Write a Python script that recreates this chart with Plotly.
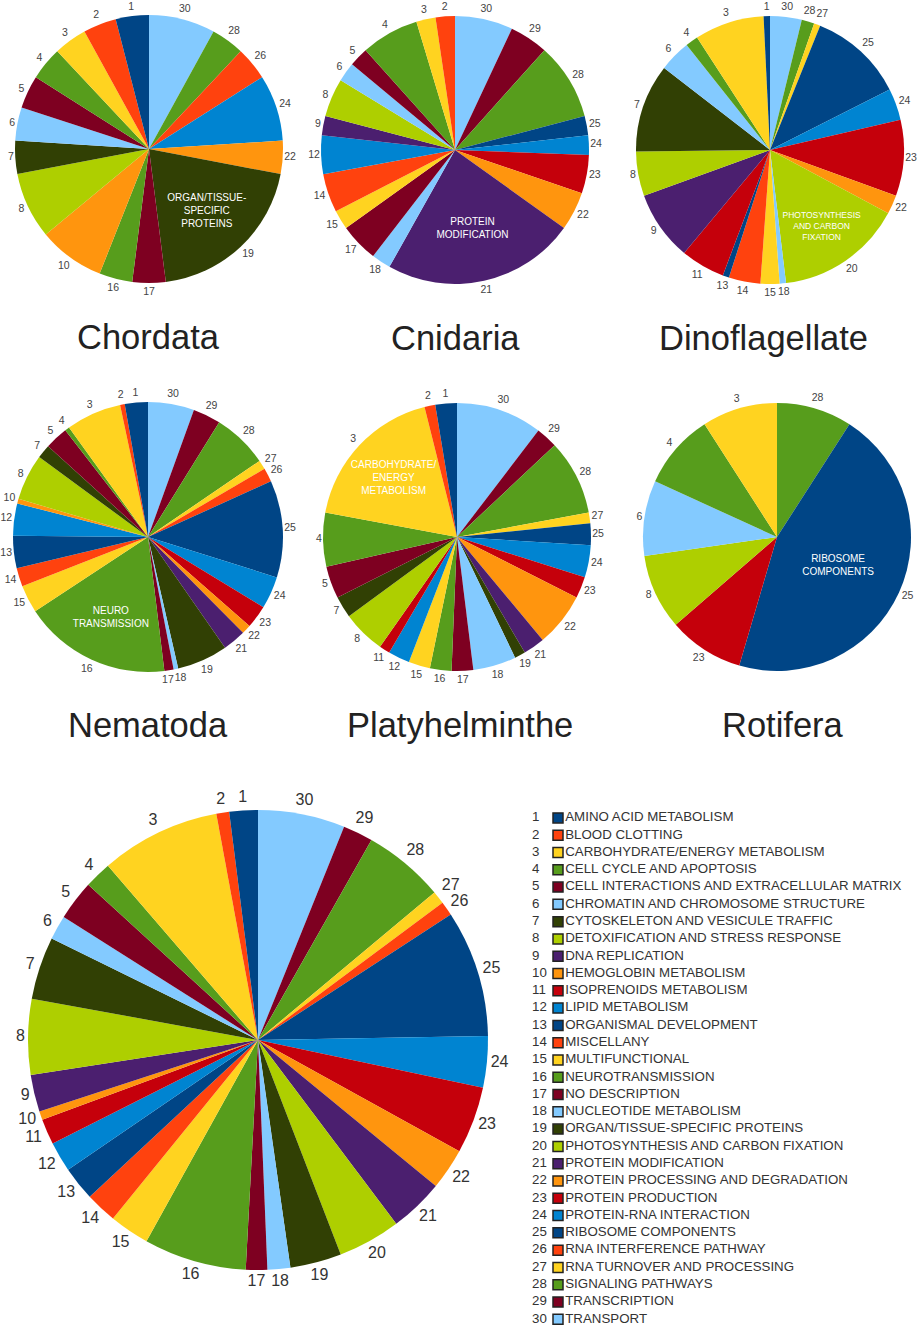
import math
import plotly.graph_objects as go

# --- category names (legend) ---
category_names = [
    "AMINO ACID METABOLISM", "BLOOD CLOTTING", "CARBOHYDRATE/ENERGY METABOLISM",
    "CELL CYCLE AND APOPTOSIS", "CELL INTERACTIONS AND EXTRACELLULAR MATRIX",
    "CHROMATIN AND CHROMOSOME STRUCTURE", "CYTOSKELETON AND VESICULE TRAFFIC",
    "DETOXIFICATION AND STRESS RESPONSE", "DNA REPLICATION", "HEMOGLOBIN METABOLISM",
    "ISOPRENOIDS METABOLISM", "LIPID METABOLISM", "ORGANISMAL DEVELOPMENT",
    "MISCELLANY", "MULTIFUNCTIONAL", "NEUROTRANSMISSION", "NO DESCRIPTION",
    "NUCLEOTIDE METABOLISM", "ORGAN/TISSUE-SPECIFIC PROTEINS",
    "PHOTOSYNTHESIS AND CARBON FIXATION", "PROTEIN MODIFICATION",
    "PROTEIN PROCESSING AND DEGRADATION", "PROTEIN PRODUCTION",
    "PROTEIN-RNA INTERACTION", "RIBOSOME COMPONENTS", "RNA INTERFERENCE PATHWAY",
    "RNA TURNOVER AND PROCESSING", "SIGNALING PATHWAYS", "TRANSCRIPTION", "TRANSPORT",
]
category_ids = list(range(1, 31))

# LibreOffice-style palette, repeats every 12 categories
palette = ["#004586", "#ff420e", "#ffd320", "#579d1c", "#7e0021", "#83caff",
           "#314004", "#aecf00", "#4b1f6f", "#ff950e", "#c5000b", "#0084d1"]

# --- per phylum values ---
chordata_cats = [1, 2, 3, 4, 5, 6, 7, 8, 10, 16, 17, 19, 22, 24, 26, 28, 30]
chordata_vals = [1, 1, 1, 1, 1, 1, 1, 2, 2, 1, 1, 5, 1, 2, 1, 1, 2]

cnidaria_cats = [2, 3, 4, 5, 6, 8, 9, 12, 14, 15, 17, 18, 21, 22, 23, 24, 25, 28, 29, 30]
cnidaria_vals = [1, 1, 3, 1, 1, 2, 1, 2, 2, 1, 2, 1, 10, 2, 2, 1, 1, 4, 2, 3]

dino_cats = [1, 3, 4, 6, 7, 8, 9, 11, 13, 14, 15, 18, 20, 22, 23, 24, 25, 27, 28, 30]
dino_vals = [1, 11, 2, 5, 14, 7, 11, 7, 1, 5, 3, 1, 20, 3, 12, 5, 15, 1, 2, 5]

nematoda_cats = [1, 2, 3, 4, 5, 7, 8, 10, 12, 13, 14, 15, 16, 17, 18, 19, 21, 22, 23,
                 24, 25, 26, 27, 28, 29, 30]
nematoda_vals = [5, 1, 12, 1, 5, 3, 10, 1, 7, 7, 4, 6, 32, 2, 1, 11, 5, 2, 5,
                 7, 21, 3, 2, 12, 6, 10]

platy_cats = [1, 2, 3, 4, 5, 7, 8, 11, 12, 15, 16, 17, 18, 19, 21, 22, 23, 24, 25,
              27, 28, 29, 30]
platy_vals = [2, 1, 14, 5, 3, 2, 4, 1, 2, 2, 2, 2, 4, 1, 2, 5, 2, 3, 2, 1, 7, 2, 8]

rotifera_cats = [3, 4, 6, 8, 23, 25, 28]
rotifera_vals = [1, 1, 1, 1, 1, 5, 1]

# all phyla together (share, %)
all_vals = [2.0, 0.9, 8.4, 1.9, 2.8, 1.7, 4.4, 5.3, 2.6, 0.6, 1.8, 2.1, 2.4, 2.2, 2.8,
            7.2, 1.5, 1.6, 3.6, 4.4, 3.8, 2.9, 4.7, 3.6, 8.9, 1.0, 0.9, 5.7, 2.1, 6.1]

W, H = 921, 1327
FONT = "Liberation Sans, Arial, sans-serif"


def color_of(cat):
    return palette[(cat - 1) % 12]


def px_domain(cx, cy, r):
    """Centre/radius in pixels (from top-left) -> paper domain."""
    return dict(x=[(cx - r) / W, (cx + r) / W], y=[(H - cy - r) / H, (H - cy + r) / H])


def mid_angles(vals):
    """Mid angle of each slice, degrees counterclockwise from 12 o'clock."""
    total = float(sum(vals))
    out, acc = [], 0.0
    for v in vals:
        out.append((acc + v / 2.0) / total * 360.0)
        acc += v
    return out


def label_points(thetas, texts, size, big, r):
    """Label centres in px from the pie centre (y up), box just clear of the rim,
    then nudged apart where neighbouring labels would collide."""
    pts, boxes = [], []
    for theta, s in zip(thetas, texts):
        w = len(s) * 0.556 * size
        h = 0.75 * size
        t = math.radians(theta)
        c = abs(math.cos(t))
        gap = (3 + 3 * c) if big else (1 + 4 * c)
        d = r + gap + abs(math.sin(t)) * w / 2 + c * h / 2
        pts.append([-math.sin(t) * d, math.cos(t) * d])
        boxes.append((w + 1, 1.0 * size))
    n = len(pts)
    for _ in range(3):
        for i in range(n):
            j = (i + 1) % n
            dx = pts[j][0] - pts[i][0]
            dy = pts[j][1] - pts[i][1]
            need_x = (boxes[i][0] + boxes[j][0]) / 2 - abs(dx)
            need_y = (boxes[i][1] + boxes[j][1]) / 2 - abs(dy)
            if need_x > 0 and need_y > 0:
                if need_x < need_y:
                    sx = 1 if dx >= 0 else -1
                    pts[i][0] -= sx * need_x / 2
                    pts[j][0] += sx * need_x / 2
                else:
                    sy = 1 if dy >= 0 else -1
                    pts[i][1] -= sy * need_y / 2
                    pts[j][1] += sy * need_y / 2
    return pts


fig = go.Figure()

pies = [
    # name, cats, vals, pie centre x/y, radius, title x, dominant cat, caption
    ("Chordata", chordata_cats, chordata_vals, 149, 149, 134, 148, 19,
     "ORGAN/TISSUE-<br>SPECIFIC<br>PROTEINS"),
    ("Cnidaria", cnidaria_cats, cnidaria_vals, 455, 150, 134, 455, 21,
     "PROTEIN<br>MODIFICATION"),
    ("Dinoflagellate", dino_cats, dino_vals, 770, 150, 134, 763, 20,
     "PHOTOSYNTHESIS<br>AND CARBON<br>FIXATION"),
    ("Nematoda", nematoda_cats, nematoda_vals, 148, 537, 135, 148, 16,
     "NEURO<br>TRANSMISSION"),
    ("Platyhelminthe", platy_cats, platy_vals, 457, 537, 134, 460, 3,
     "CARBOHYDRATE/<br>ENERGY<br>METABOLISM"),
    ("Rotifera", rotifera_cats, rotifera_vals, 777, 537, 134, 783, 25,
     "RIBOSOME<br>COMPONENTS"),
    ("", category_ids, all_vals, 258, 1040, 230, None, None, None),
]

axes_layout = {}
for k, (name, cats, vals, cx, cy, r, tx, big_cat, big_text) in enumerate(pies, start=2):
    dom = px_domain(cx, cy, r)
    big = name == ""
    lab_size = 16 if big else 10.5
    lab_color = "#333333" if big else "#444444"
    # clockwise from 12 o'clock, last category first -> category 1 ends at the top
    cats_r = cats[::-1]
    vals_r = vals[::-1]
    labels = [str(c) for c in cats_r]
    fig.add_trace(go.Pie(
        labels=labels, values=vals_r, domain=dom, sort=False,
        direction="clockwise", rotation=0, automargin=False,
        marker=dict(colors=[color_of(c) for c in cats_r], line=dict(width=0)),
        textinfo="none", showlegend=False, hoverinfo="label+percent",
        name=name or "All",
    ))
    if big_text:
        # caption inside the dominant slice
        fig.add_trace(go.Pie(
            labels=labels, values=vals_r, domain=dom, sort=False,
            direction="clockwise", rotation=0, automargin=False,
            marker=dict(colors=["rgba(0,0,0,0)"] * len(cats_r), line=dict(width=0)),
            text=[big_text if c == big_cat else "" for c in cats_r],
            textinfo="text", textposition="inside", insidetextorientation="horizontal",
            textfont=dict(family=FONT, size=10, color="white"),
            showlegend=False, hoverinfo="skip",
        ))

    # category numbers just outside the rim, on a hidden axis pair centred on the pie
    # (1 axis unit = pie radius)
    texts = [str(c) for c in cats]
    pts = label_points(mid_angles(vals), texts, lab_size, big, r)
    fig.add_trace(go.Scatter(
        x=[p[0] / r for p in pts], y=[p[1] / r for p in pts], mode="text", text=texts,
        textposition="middle center", xaxis=f"x{k}", yaxis=f"y{k}", cliponaxis=False,
        textfont=dict(family=FONT, size=lab_size, color=lab_color),
        showlegend=False, hoverinfo="skip",
    ))
    pad = 45
    x0, x1 = max(0, cx - r - pad), min(W, cx + r + pad)
    yb, yt = max(0, (H - cy) - r - pad), min(H, (H - cy) + r + pad)
    axes_layout[f"xaxis{k}"] = dict(domain=[x0 / W, x1 / W],
                                    range=[(x0 - cx) / r, (x1 - cx) / r],
                                    visible=False, fixedrange=True, anchor=f"y{k}")
    axes_layout[f"yaxis{k}"] = dict(domain=[yb / H, yt / H],
                                    range=[(yb - (H - cy)) / r, (yt - (H - cy)) / r],
                                    visible=False, fixedrange=True, anchor=f"x{k}")
    if name:
        fig.add_annotation(
            text=name, x=tx / W, y=(H - cy - 188) / H,
            xref="paper", yref="paper", xanchor="center", yanchor="middle",
            showarrow=False, font=dict(family=FONT, size=34.5, color="#222222"),
        )

# legend drawn as a scatter on a hidden axis (1 axis unit = 1 px horizontally)
fig.add_trace(go.Scatter(
    x=[38] * 30, y=category_ids, mode="markers+text",
    marker=dict(symbol="square", size=10, color=[color_of(c) for c in category_ids],
                line=dict(color="#222222", width=1.5)),
    text=category_names, textposition="middle right",
    textfont=dict(family=FONT, size=13.3, color="#333333"),
    showlegend=False, hoverinfo="skip", cliponaxis=False,
))
fig.add_trace(go.Scatter(
    x=[12] * 30, y=category_ids, mode="text",
    text=[str(c) for c in category_ids], textposition="middle right",
    textfont=dict(family=FONT, size=13.3, color="#333333"),
    showlegend=False, hoverinfo="skip", cliponaxis=False,
))

row_px = 17.29  # legend row pitch in pixels
fig.update_layout(
    width=W, height=H, margin=dict(l=0, r=0, t=0, b=0, autoexpand=False),
    paper_bgcolor="white", plot_bgcolor="rgba(0,0,0,0)", showlegend=False,
    xaxis=dict(domain=[520 / W, 1.0], range=[0, W - 520], visible=False, fixedrange=True),
    yaxis=dict(domain=[0, (H - 800) / H],
               range=[30 + (H - 1319.3) / row_px, 1 - (817.9 - 800) / row_px],
               visible=False, fixedrange=True),
    **axes_layout,
)

# page body has a default 8px margin; drop it so the figure sits at the window corner
fig.write_html("out.html", config={"displayModeBar": False},
               post_script="document.body.style.margin = '0px';")
